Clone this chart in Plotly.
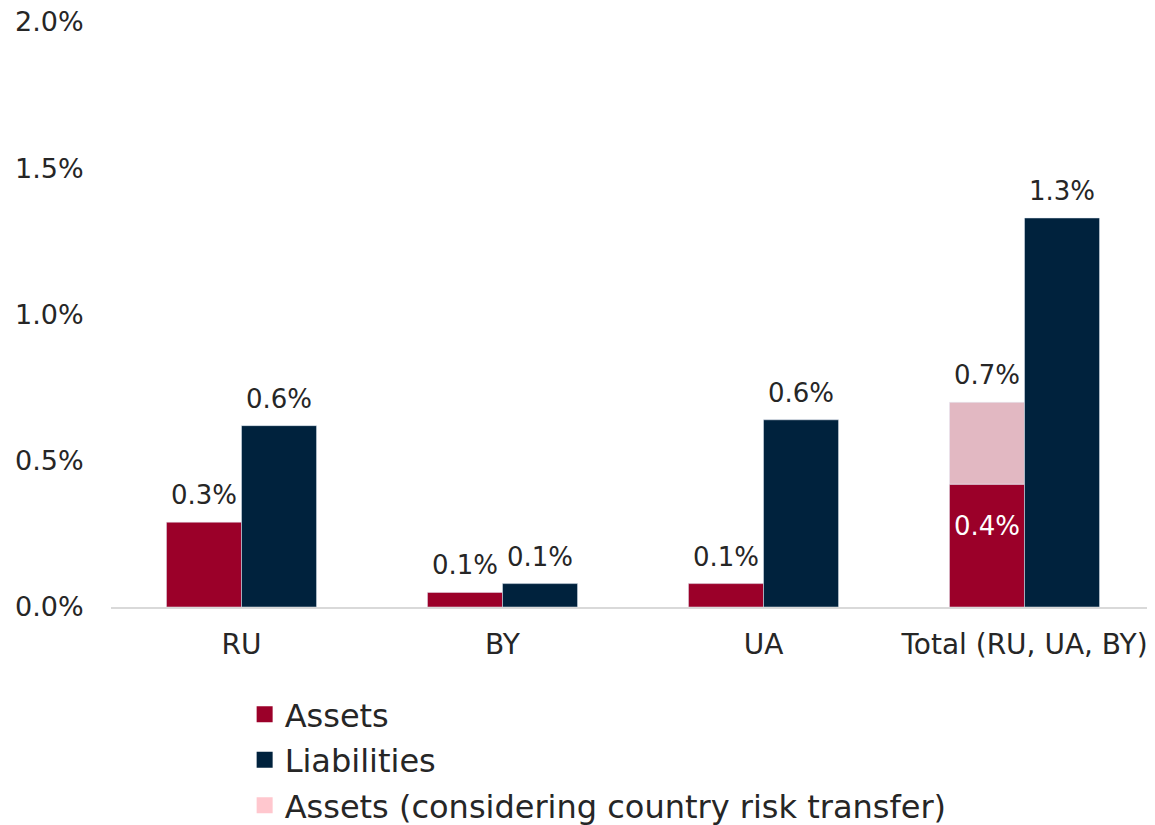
import plotly.graph_objects as go

# values in percent
categories = ["RU", "BY", "UA", "Total (RU, UA, BY)"]
assets = [0.29, 0.05, 0.08, 0.42]
liabilities = [0.62, 0.08, 0.64, 1.33]
assets_transfer = [None, None, None, 0.70]  # total incl. country risk transfer

RED = "#9B0029"
NAVY = "#00223D"
PINK = "#E2B8C2"
PINK_LEGEND = "#FFC7CE"
FONT = "DejaVu Sans"
TXT = "#262626"

# page body adds 8px around the figure
W, H = 1139, 831
ML, MR, MT, MB = 103, 0, 14, 232
BARGAP = 0.425
CAT_PX = 261  # width of one category slot
plot_w = W - ML - MR
x_hi = -0.5 + plot_w / CAT_PX  # last slot runs past the page edge

# pink segment sits on top of the assets bar
transfer_extra = [None if t is None else t - a for t, a in zip(assets_transfer, assets)]

fig = go.Figure()
fig.add_trace(go.Bar(x=categories, y=assets, marker_color=RED,
                     offsetgroup="a", showlegend=False, hoverinfo="skip"))
fig.add_trace(go.Bar(x=categories, y=transfer_extra, base=assets, marker_color=PINK,
                     offsetgroup="a", showlegend=False, hoverinfo="skip"))
fig.add_trace(go.Bar(x=categories, y=liabilities, marker_color=NAVY,
                     offsetgroup="b", showlegend=False, hoverinfo="skip"))

# legend-only entries (bigger square swatches)
for name, col, grp in [("Assets", RED, "1"), ("Liabilities", NAVY, "2"),
                       ("Assets (considering country risk transfer)", PINK_LEGEND, "3")]:
    fig.add_trace(go.Scatter(x=[None], y=[None], mode="markers", name=name,
                             legendgroup=grp,
                             marker=dict(symbol="square", size=16, color=col)))

# value labels
half = CAT_PX * (1 - BARGAP) / 4
lab_font = dict(family=FONT, size=26, color=TXT)
for i, c in enumerate(categories):
    if assets_transfer[i] is None:
        fig.add_annotation(x=c, y=assets[i], text=f"{assets[i]:.1f}%",
                           xshift=-half, yshift=10, yanchor="bottom",
                           showarrow=False, font=lab_font)
    else:
        fig.add_annotation(x=c, y=assets[i], text=f"{assets[i]:.1f}%",
                           xshift=-half, yshift=-25, yanchor="top",
                           showarrow=False, font=dict(lab_font, color="white"))
        fig.add_annotation(x=c, y=assets_transfer[i], text=f"{assets_transfer[i]:.1f}%",
                           xshift=-half, yshift=10, yanchor="bottom",
                           showarrow=False, font=lab_font)
    fig.add_annotation(x=c, y=liabilities[i], text=f"{liabilities[i]:.1f}%",
                       xshift=half, yshift=10, yanchor="bottom",
                       showarrow=False, font=lab_font)

fig.update_layout(
    width=W, height=H,
    margin=dict(l=ML, r=MR, t=MT, b=MB),
    plot_bgcolor="white", paper_bgcolor="white",
    font=dict(family=FONT, size=26, color=TXT),
    barmode="group", bargap=BARGAP, bargroupgap=0,
    showlegend=True,
    legend=dict(
        x=0.129, y=-0.1365, xanchor="left", yanchor="top",
        orientation="v", traceorder="grouped", tracegroupgap=1,
        font=dict(size=32, color=TXT), bgcolor="rgba(0,0,0,0)",
        itemwidth=30,
    ),
)
fig.update_xaxes(
    range=[-0.5, x_hi],
    showline=True, linecolor="#D9D9D9", linewidth=2,
    ticks="outside", ticklen=11, tickcolor="rgba(0,0,0,0)",
    tickfont=dict(size=28), showgrid=False, automargin=False,
    ticklabeloverflow="allow",
)
fig.update_yaxes(
    range=[0, 2], dtick=0.5, tickformat=".1f", ticksuffix="%",
    showgrid=False, zeroline=False, showline=False,
    ticks="outside", ticklen=21, tickcolor="rgba(0,0,0,0)",
    tickfont=dict(size=27), automargin=False,
    ticklabeloverflow="allow",
)

fig.write_html("out.html")
